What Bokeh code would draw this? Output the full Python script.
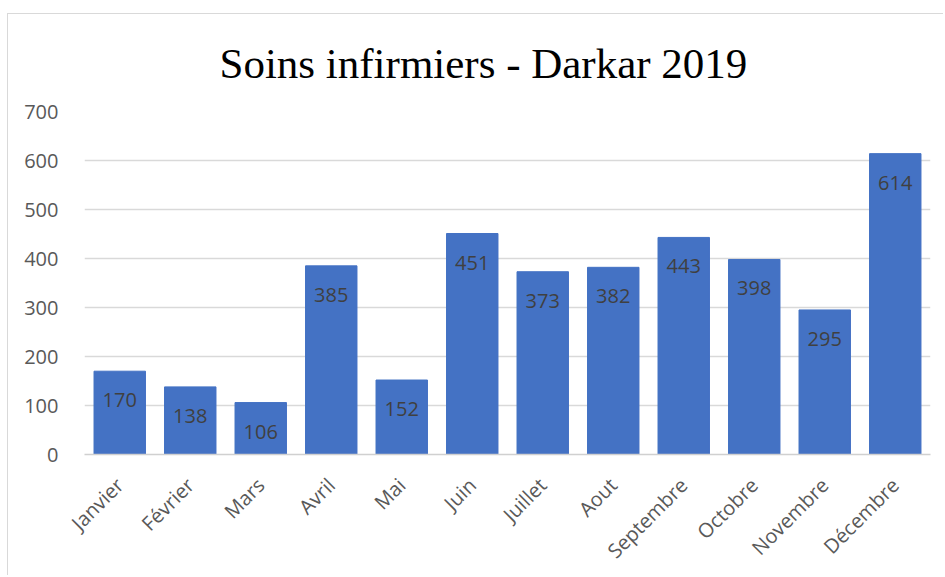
from bokeh.plotting import figure
from bokeh.models import ColumnDataSource, FactorRange, Range1d, SingleIntervalTicker
from bokeh.core.properties import value
from bokeh.embed import file_html
from bokeh.resources import INLINE
import math

months = ["Janvier", "Février", "Mars", "Avril", "Mai", "Juin", "Juillet",
          "Aout", "Septembre", "Octobre", "Novembre", "Décembre"]
counts = [170, 138, 106, 385, 152, 451, 373, 382, 443, 398, 295, 614]
title_text = "Soins infirmiers - Darkar 2019"

src = ColumnDataSource(dict(m=months, v=counts, lab=[str(c) for c in counts]))

p = figure(x_range=FactorRange(*months, range_padding=0), y_range=Range1d(0, 700),
           width=936, height=562, output_backend="svg", toolbar_location=None,
           min_border_left=76, min_border_right=14, min_border_top=97, min_border_bottom=122)
p.styles = {"border-left": "1px solid #d9d9d9", "border-top": "1px solid #d9d9d9",
            "margin-top": "13px", "margin-left": "7px"}

p.title.text = title_text
p.title.align = "left"
p.title.offset = 135
p.title.vertical_align = "top"
p.title.text_font = "Liberation Serif"
p.title.text_font_size = "43px"
p.title.text_font_style = "normal"
p.title.text_color = "#000000"
p.title.standoff = 45

p.vbar(x="m", top="v", width=0.73, source=src, fill_color="#4472C4",
       line_color="#4472C4")
p.text(x="m", y="v", text="lab", source=src, text_align="center",
       text_baseline="middle", y_offset=29, text_font=value("Open Sans"),
       text_font_size="20px", text_color="#404040")

p.outline_line_color = None
p.background_fill_color = "white"
p.border_fill_color = "white"

p.xgrid.grid_line_color = None
p.ygrid.grid_line_color = "#d9d9d9"
p.ygrid.grid_line_width = 1.5
p.yaxis.ticker = SingleIntervalTicker(interval=100)

for ax in (p.xaxis[0], p.yaxis[0]):
    ax.major_tick_line_color = None
    ax.minor_tick_line_color = None
    ax.major_label_text_font = "Open Sans"
    ax.major_label_text_font_size = "20px"
    ax.major_label_text_color = "#595959"
p.yaxis.axis_line_color = None
p.xaxis.axis_line_color = "#d0d0d0"
p.xaxis.axis_line_width = 1.5
p.yaxis.major_label_standoff = 20
p.xaxis.major_label_standoff = 21
p.xaxis.major_label_orientation = math.pi / 4

open("out.html", "w").write(file_html(p, INLINE))
